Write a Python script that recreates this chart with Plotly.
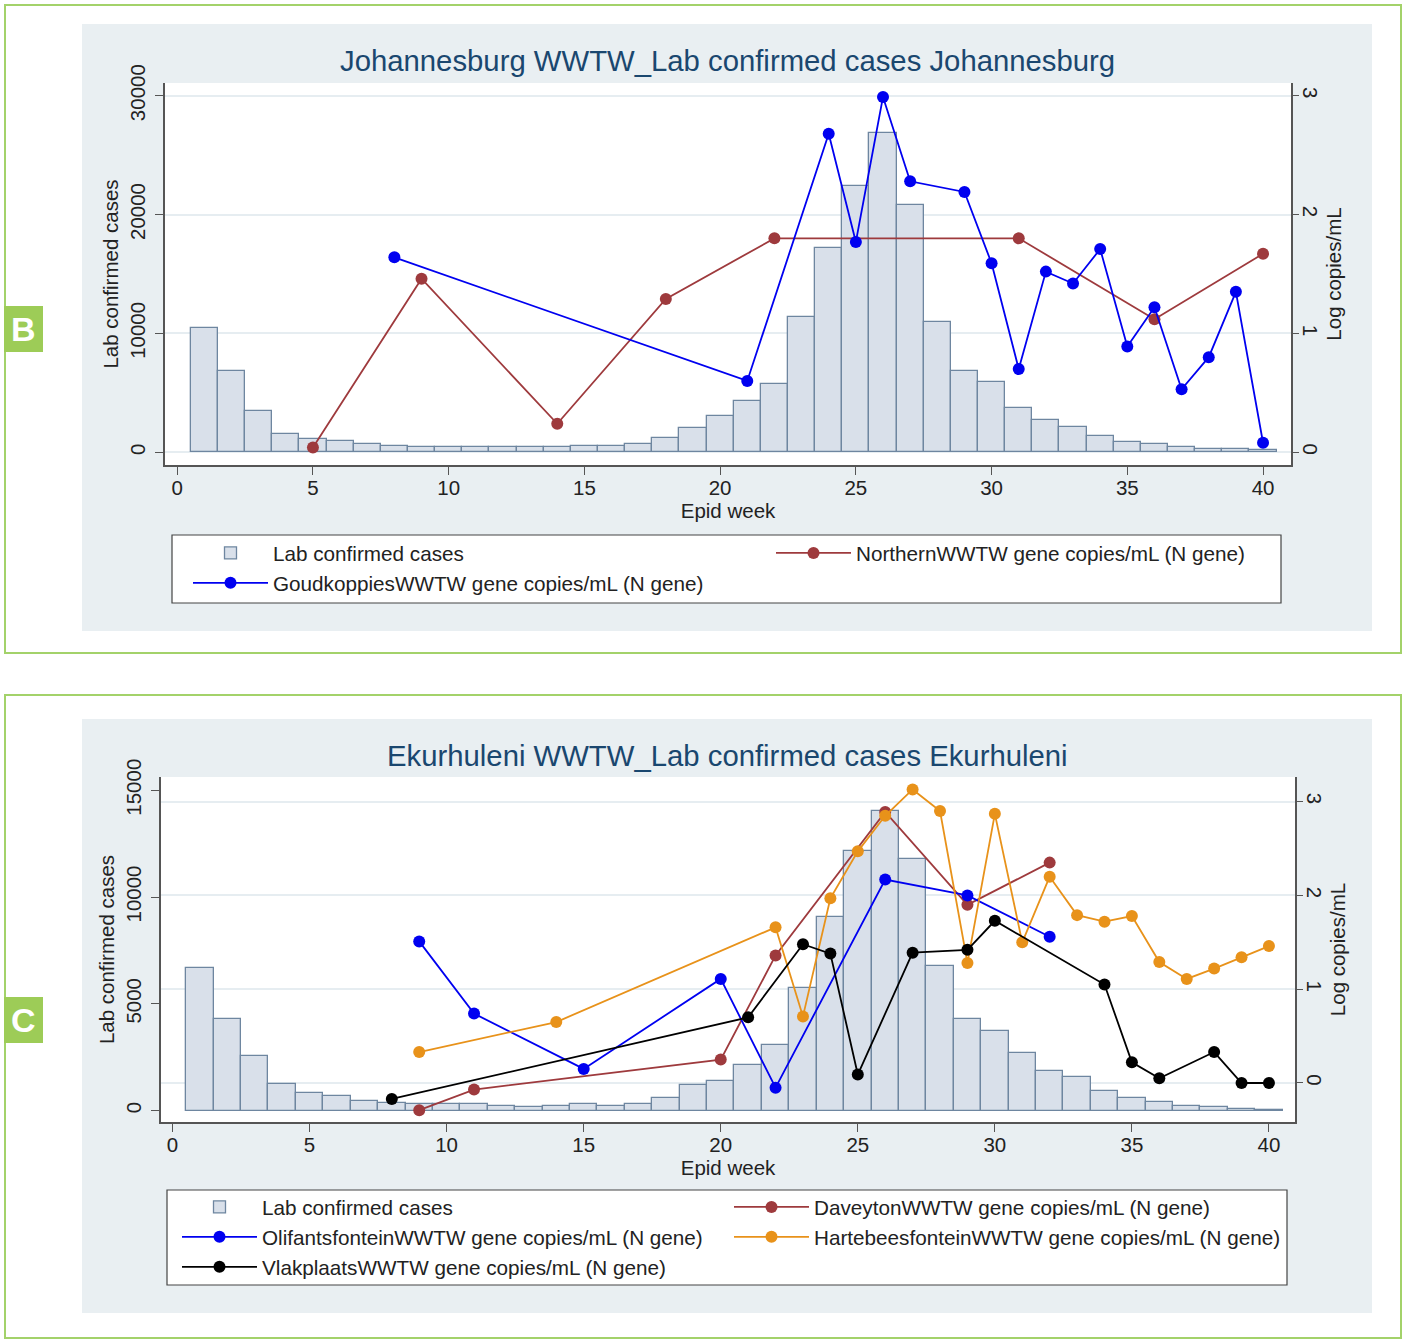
import plotly.graph_objects as go

# ---------------- data ----------------
weeks = list(range(1, 41))

jhb_cases = [10430, 6840, 3500, 1510, 1090, 950, 700, 560, 420, 420,
             420, 420, 420, 420, 560, 560, 700, 1230, 2050, 3080,
             4290, 5750, 11350, 17200, 22400, 26830, 20800, 10930, 6840, 5890,
             3760, 2690, 2160, 1370, 870, 700, 420, 280, 280, 200]

goud_weeks = [8, 21, 24, 25, 26, 27, 29, 30, 31, 32, 33, 34, 35, 36, 37, 38, 39, 40]
goud_vals = [1.64, 0.60, 2.68, 1.77, 2.99, 2.28, 2.19, 1.59, 0.70, 1.52,
             1.42, 1.71, 0.89, 1.22, 0.53, 0.80, 1.35, 0.08]

north_weeks = [5, 9, 14, 18, 22, 31, 36, 40]
north_vals = [0.04, 1.46, 0.24, 1.29, 1.80, 1.80, 1.12, 1.67]

eku_cases = [6700, 4300, 2570, 1270, 830, 710, 470, 350, 320, 320,
             320, 240, 160, 240, 320, 240, 320, 610, 1190, 1410,
             2140, 3060, 5740, 9070, 12170, 14050, 11800, 6750, 4300, 3710,
             2700, 1840, 1560, 910, 600, 390, 240, 160, 100, 40]

olif_weeks = [9, 11, 15, 20, 22, 26, 29, 32]
olif_vals = [1.51, 0.74, 0.15, 1.11, -0.05, 2.17, 2.00, 1.56]

dave_weeks = [9, 11, 20, 22, 26, 29, 32]
dave_vals = [-0.29, -0.07, 0.25, 1.36, 2.89, 1.90, 2.35]

harte_weeks = [9, 14, 22, 23, 24, 25, 26, 27, 28, 29, 30, 31, 32, 33, 34, 35, 36, 37, 38, 39, 40]
harte_vals = [0.33, 0.65, 1.66, 0.71, 1.97, 2.47, 2.85, 3.13, 2.90, 1.28, 2.87,
              1.50, 2.20, 1.79, 1.72, 1.78, 1.29, 1.11, 1.22, 1.34, 1.46]

vlak_weeks = [8, 21, 23, 24, 25, 27, 29, 30, 34, 35, 36, 38, 39, 40]
vlak_vals = [-0.17, 0.70, 1.48, 1.38, 0.09, 1.39, 1.42, 1.73, 1.05, 0.22, 0.05, 0.33, 0.0, 0.0]

x_ticks = [0, 5, 10, 15, 20, 25, 30, 35, 40]
jhb_yticks = [0, 10000, 20000, 30000]
eku_yticks = [0, 5000, 10000, 15000]
log_ticks = [0, 1, 2, 3]

# ---------------- styling ----------------
W, H = 1405, 1342
FONT = "Liberation Sans, Arial, sans-serif"
BAR_FILL = "#d9e0ea"
BAR_LINE = "#6e86a0"
BLUE = "#0000f0"
MAROON = "#9e3a3d"
ORANGE = "#e8921a"
BLACK = "#000000"
BG = "#e9eff2"
GREEN = "#a3d26a"
TXT = "#222222"
AX = "#555555"
GRID = "#e6edf1"


def px(x):
    return x / W


def py(y):
    return 1 - y / H


fig = go.Figure()

# ---- top panel ----
fig.add_trace(go.Bar(x=weeks, y=jhb_cases, width=1, name="Lab confirmed cases",
                     marker=dict(color=BAR_FILL, line=dict(color=BAR_LINE, width=1.3)),
                     xaxis="x", yaxis="y", legend="legend"))
fig.add_trace(go.Scatter(x=north_weeks, y=north_vals, mode="lines+markers",
                         name="NorthernWWTW gene copies/mL (N gene)",
                         line=dict(color=MAROON, width=1.8), marker=dict(color=MAROON, size=12),
                         xaxis="x", yaxis="y2", legend="legend2"))
fig.add_trace(go.Scatter(x=goud_weeks, y=goud_vals, mode="lines+markers",
                         name="GoudkoppiesWWTW gene copies/mL (N gene)",
                         line=dict(color=BLUE, width=1.8), marker=dict(color=BLUE, size=12),
                         xaxis="x", yaxis="y2", legend="legend"))

# ---- bottom panel ----
fig.add_trace(go.Bar(x=weeks, y=eku_cases, width=1, name="Lab confirmed cases",
                     marker=dict(color=BAR_FILL, line=dict(color=BAR_LINE, width=1.3)),
                     xaxis="x2", yaxis="y3", legend="legend3"))
fig.add_trace(go.Scatter(x=dave_weeks, y=dave_vals, mode="lines+markers",
                         name="DaveytonWWTW gene copies/mL (N gene)",
                         line=dict(color=MAROON, width=1.8), marker=dict(color=MAROON, size=12),
                         xaxis="x2", yaxis="y4", legend="legend4"))
fig.add_trace(go.Scatter(x=olif_weeks, y=olif_vals, mode="lines+markers",
                         name="OlifantsfonteinWWTW gene copies/mL (N gene)",
                         line=dict(color=BLUE, width=1.8), marker=dict(color=BLUE, size=12),
                         xaxis="x2", yaxis="y4", legend="legend3"))
fig.add_trace(go.Scatter(x=harte_weeks, y=harte_vals, mode="lines+markers",
                         name="HartebeesfonteinWWTW gene copies/mL (N gene)",
                         line=dict(color=ORANGE, width=1.8), marker=dict(color=ORANGE, size=12),
                         xaxis="x2", yaxis="y4", legend="legend4"))
fig.add_trace(go.Scatter(x=vlak_weeks, y=vlak_vals, mode="lines+markers",
                         name="VlakplaatsWWTW gene copies/mL (N gene)",
                         line=dict(color=BLACK, width=1.8), marker=dict(color=BLACK, size=12),
                         xaxis="x2", yaxis="y4", legend="legend3"))

tickfont = dict(family=FONT, size=20.5, color=TXT)
titlefont = dict(family=FONT, size=20.5, color=TXT)

common_x = dict(ticks="outside", ticklen=8, tickcolor=AX, showline=True, linecolor=AX,
                linewidth=1.5, showgrid=False, zeroline=False, tickfont=tickfont,
                tickvals=x_ticks, automargin=False, ticklabelstandoff=-4,
                title=dict(text="Epid week", font=titlefont, standoff=0))
common_yl = dict(ticks="outside", ticklen=8, tickcolor=AX, showline=True, linecolor=AX,
                 linewidth=1.5, showgrid=False, zeroline=False, tickfont=tickfont,
                 tickangle=-90, tickformat="d", automargin=False, ticklabelstandoff=2,
                 title=dict(text="Lab confirmed cases", font=titlefont, standoff=2))
common_yr = dict(ticks="outside", ticklen=6, tickcolor=AX, showline=True, linecolor=AX,
                 linewidth=1.5, showgrid=True, gridcolor=GRID, gridwidth=1.5, zeroline=False,
                 tickfont=tickfont, tickangle=90, tickvals=log_ticks, side="right",
                 automargin=False, ticklabelstandoff=-4,
                 title=dict(text="Log copies/mL", font=titlefont, standoff=0))

top_dom_x = [px(165), px(1291)]
top_dom_y = [py(465), py(83)]
bot_dom_x = [px(161), px(1295)]
bot_dom_y = [py(1122), py(777)]

fig.update_layout(
    xaxis=dict(domain=top_dom_x, anchor="y", range=[-0.45, 41.03], **common_x),
    yaxis=dict(domain=top_dom_y, anchor="x", range=[-1070, 31070], tickvals=jhb_yticks, **common_yl),
    yaxis2=dict(overlaying="y", anchor="x", range=[-0.107, 3.107], **common_yr),
    xaxis2=dict(domain=bot_dom_x, anchor="y3", range=[-0.42, 40.95], **common_x),
    yaxis3=dict(domain=bot_dom_y, anchor="x2", range=[-530, 15620], tickvals=eku_yticks, **common_yl),
    yaxis4=dict(overlaying="y3", anchor="x2", range=[-0.416, 3.263], **common_yr),
)

leg_common = dict(bgcolor="rgba(0,0,0,0)", borderwidth=0, font=dict(family=FONT, size=20.7, color=TXT),
                  xanchor="left", yanchor="top", orientation="v", itemwidth=75,
                  tracegroupgap=0, itemclick=False)
fig.update_layout(
    legend=dict(x=px(188), y=py(533), **leg_common),
    legend2=dict(x=px(771), y=py(533), **leg_common),
    legend3=dict(x=px(177), y=py(1187), **leg_common),
    legend4=dict(x=px(729), y=py(1187), **leg_common),
)

shapes = []
annotations = []
# green frames
for (y0, y1) in [(5, 653), (695, 1338)]:
    shapes.append(dict(type="rect", xref="paper", yref="paper", x0=px(5), x1=px(1401),
                       y0=py(y1), y1=py(y0), line=dict(color=GREEN, width=2),
                       fillcolor="white", layer="below"))
# grey backgrounds
for (y0, y1) in [(24, 631), (719, 1313)]:
    shapes.append(dict(type="rect", xref="paper", yref="paper", x0=px(82), x1=px(1372),
                       y0=py(y1), y1=py(y0), line=dict(width=0), fillcolor=BG, layer="below"))
# white plot areas
shapes.append(dict(type="rect", xref="paper", yref="paper", x0=top_dom_x[0], x1=top_dom_x[1],
                   y0=top_dom_y[0], y1=top_dom_y[1], line=dict(width=0), fillcolor="white", layer="below"))
shapes.append(dict(type="rect", xref="paper", yref="paper", x0=bot_dom_x[0], x1=bot_dom_x[1],
                   y0=bot_dom_y[0], y1=bot_dom_y[1], line=dict(width=0), fillcolor="white", layer="below"))
# legend boxes
shapes.append(dict(type="rect", xref="paper", yref="paper", x0=px(172), x1=px(1281),
                   y0=py(603), y1=py(535), line=dict(color="#444444", width=1.2),
                   fillcolor="white", layer="below"))
shapes.append(dict(type="rect", xref="paper", yref="paper", x0=px(167), x1=px(1287),
                   y0=py(1285), y1=py(1190), line=dict(color="#444444", width=1.2),
                   fillcolor="white", layer="below"))
# panel labels
for (lab, y0, y1) in [("B", 306, 352), ("C", 997, 1043)]:
    shapes.append(dict(type="rect", xref="paper", yref="paper", x0=px(4), x1=px(43),
                       y0=py(y1), y1=py(y0), line=dict(width=0), fillcolor="#9dcc57", layer="above"))
    annotations.append(dict(text="<b>%s</b>" % lab, xref="paper", yref="paper",
                            x=px(23.5), y=py((y0 + y1) / 2), showarrow=False,
                            xanchor="center", yanchor="middle",
                            font=dict(family=FONT, size=34, color="white")))
# titles
annotations.append(dict(text="Johannesburg WWTW_Lab confirmed cases Johannesburg", xref="paper", yref="paper",
                        x=px(727), y=py(60), showarrow=False, xanchor="center", yanchor="middle",
                        font=dict(family=FONT, size=29.3, color="#1a476f")))
annotations.append(dict(text="Ekurhuleni WWTW_Lab confirmed cases Ekurhuleni", xref="paper", yref="paper",
                        x=px(727), y=py(755), showarrow=False, xanchor="center", yanchor="middle",
                        font=dict(family=FONT, size=29.3, color="#1a476f")))

fig.update_layout(
    width=W, height=H, autosize=False,
    margin=dict(l=0, r=0, t=0, b=0, pad=0, autoexpand=False),
    paper_bgcolor="white", plot_bgcolor="rgba(0,0,0,0)",
    bargap=0, barmode="overlay",
    shapes=shapes, annotations=annotations,
    font=dict(family=FONT, color=TXT),
)

fig.write_html(
    "out.html",
    config={"displayModeBar": False},
    post_script=("document.documentElement.style.margin='0';"
                 "document.body.style.margin='0';document.body.style.padding='0';"
                 "document.documentElement.style.overflow='hidden';"),
)
